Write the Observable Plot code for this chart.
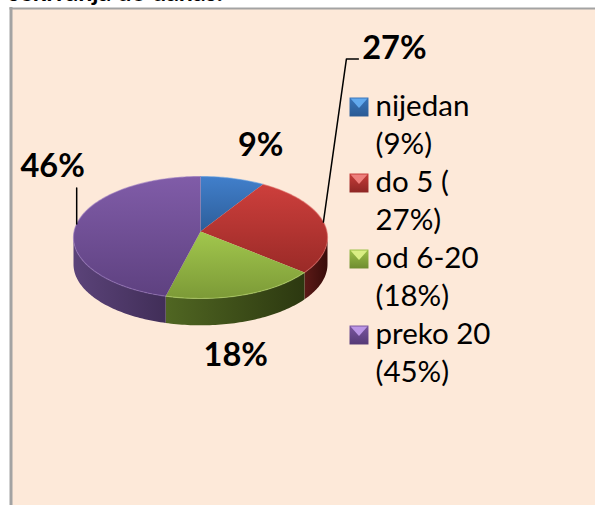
<!DOCTYPE html>
<html>
<head>
<meta charset="utf-8">
<script src="https://cdn.jsdelivr.net/npm/d3@7"></script>
<script src="https://cdn.jsdelivr.net/npm/@observablehq/plot@0.6"></script>
<style>
html,body{margin:0;padding:0;background:#fff;overflow:hidden}
svg{display:block}
</style>
</head>
<body>
<script>
const categories = ["nijedan", "do 5", "od 6-20", "preko 20"];
const values = [9, 27, 18, 46];
const legendLabels = ["nijedan\n(9%)", "do 5 (\n27%)", "od 6-20\n(18%)", "preko 20\n(45%)"];
const valueLabels = ["9%", "27%", "18%", "46%"];
const clippedHeading = "sekivanja do danas:";

const keys = ["blue", "red", "green", "purple"];
const topColors = [["#417fcb", "#2d5e9a"], ["#cd3f3c", "#9a2a27"], ["#a2c74d", "#7c9a37"], ["#805ca8", "#5e4180"]];
const sideColors = [["#2d5e9a", "#1e3f68"], ["#5c1a17", "#380c0a"], ["#506622", "#2c3810"], ["#5b4379", "#412e58"]];
const rimColors = ["#5b9be0", "#dd6663", "#b5d56a", "#9675bd"];
const swatchColors = [["#3a75ba", "#2a5a94"], ["#c63c39", "#8e2624"], ["#9bc048", "#6f8c30"], ["#7a56a0", "#553a76"]];
const swatchLights = ["#62a9ee", "#ee7f7c", "#d9ee84", "#bb96e6"];

// perspective view of the pie disk: the centre projects nearer the far rim
const depth = 0.44, persp = 0.1, vScale = 0.99, hScale = Math.sqrt(1 - persp * persp);
const arcs = d3.pie().sort(null).startAngle(0).endAngle(2 * Math.PI)(values);
const onRim = (t, drop = 0) => {
  const w = 1 + persp * Math.cos(t);
  return {px: hScale * Math.sin(t) / w, py: vScale * Math.cos(t) / w + persp - drop};
};
const sweep = (a, b) => {
  const n = Math.max(2, Math.ceil((b - a) / 0.02)), pts = [];
  for (let i = 0; i <= n; ++i) pts.push(a + (b - a) * i / n);
  return pts;
};
const X = {x: "px", y: "py"};

const topSlice = d => [{px: 0, py: persp}, ...sweep(d.startAngle, d.endAngle).map(t => onRim(t))];
const rimArc = d => sweep(d.startAngle, d.endAngle).map(t => onRim(t));
const frontStart = Math.acos(-persp), frontEnd = 2 * Math.PI - frontStart;
const sideWall = d => {
  const a = Math.max(d.startAngle, frontStart), b = Math.min(d.endAngle, frontEnd);
  if (a >= b) return null;
  const ts = sweep(a, b);
  return [...ts.map(t => onRim(t)), ...ts.slice().reverse().map(t => onRim(t, depth))];
};
const mid = d => onRim((d.startAngle + d.endAngle) / 2);

const grad = (defs, id, [c0, c1], horizontal) => {
  const g = defs.append("linearGradient").attr("id", id)
    .attr("x1", 0).attr("y1", 0).attr("x2", horizontal ? 1 : 0).attr("y2", horizontal ? 0 : 1);
  g.append("stop").attr("offset", 0).attr("stop-color", c0);
  g.append("stop").attr("offset", 1).attr("stop-color", c1);
};
const defsMark = () => {
  const defs = d3.create("svg:defs");
  keys.forEach((k, i) => {
    grad(defs, "top-" + k, topColors[i], false);
    grad(defs, "side-" + k, sideColors[i], true);
    grad(defs, "swatch-" + k, swatchColors[i], false);
  });
  return defs.node();
};

// top bevel of a legend swatch
const bevel = {draw(ctx, size) {
  const w = Math.sqrt(size) / 2;
  ctx.moveTo(-w + 1, -w + 1);
  ctx.lineTo(w - 1, -w + 1);
  ctx.lineTo(0, 1);
  ctx.closePath();
}};

const legendTextLeft = 365, legendSwatchCentre = 348.5, legendTop = 90, legendStep = 76;
const labelOffsets = [[28, -33], [71, -174], [-4, 57], [-24, -57]];
const labelLines = [null, [[23, -163], [35, -163]], null, [[0, -36]]];

const anchors = [mid(arcs[0]), mid(arcs[1]), {px: Math.sin((arcs[2].startAngle + arcs[2].endAngle) / 2), py: -1.0}, mid(arcs[3])];

const marks = [
  defsMark,
  Plot.frame({fill: "#fde9d9", stroke: "none"}),
  Plot.frame({anchor: "left", stroke: "#a3a3a3", strokeWidth: 3, dx: 0.5}),
  Plot.frame({anchor: "top", stroke: "#a3a3a3", strokeWidth: 2}),
  Plot.text([clippedHeading], {
    frameAnchor: "top-left", dx: -2, dy: -8, textAnchor: "start", lineAnchor: "bottom",
    fontSize: 25, fontWeight: 700, fill: "#000"
  })
];

arcs.forEach((d, i) => {
  const wall = sideWall(d);
  if (wall) marks.push(Plot.line(wall, {...X, curve: "linear", stroke: "none", fill: `url(#side-${keys[i]})`}));
});
arcs.forEach((d, i) => {
  marks.push(Plot.line(topSlice(d), {...X, curve: "linear", stroke: "none", fill: `url(#top-${keys[i]})`}));
});
arcs.forEach((d, i) => {
  marks.push(Plot.line(rimArc(d), {...X, curve: "linear", stroke: rimColors[i], strokeWidth: 1.2, strokeOpacity: 0.55}));
});

// leader lines, anchored on the slices' mid-angles
arcs.forEach((d, i) => {
  if (!labelLines[i]) return;
  const a = mid(d), sx = 254 / 2, sy = 122 / 2;
  const pts = [a, ...labelLines[i].map(([dx, dy]) => ({px: a.px + dx / sx, py: a.py - dy / sy}))];
  marks.push(Plot.line(pts, {...X, curve: "linear", stroke: "#000", strokeWidth: 1.5}));
});

valueLabels.forEach((t, i) => {
  marks.push(Plot.text([t], {
    x: () => anchors[i].px, y: () => anchors[i].py,
    dx: labelOffsets[i][0], dy: labelOffsets[i][1],
    fontSize: 32.5, fontWeight: 700, fill: "#000", textAnchor: "middle", lineAnchor: "middle"
  }));
});

categories.forEach((c, i) => {
  const dy = legendTop + legendStep * i;
  marks.push(Plot.dot([c], {
    frameAnchor: "top-left", dx: legendSwatchCentre, dy: dy + 8.5,
    r: 10.7, symbol: "square", fill: `url(#swatch-${keys[i]})`, stroke: "none"
  }));
  marks.push(Plot.dot([c], {
    frameAnchor: "top-left", dx: legendSwatchCentre, dy: dy + 8.5,
    r: 10.7, symbol: bevel, fill: swatchLights[i], stroke: "none"
  }));
  marks.push(Plot.text([legendLabels[i]], {
    frameAnchor: "top-left", dx: legendTextLeft, dy: dy - 9,
    textAnchor: "start", lineAnchor: "top", lineHeight: 38 / 29.5,
    fontSize: 29.5, fill: "#000"
  }));
});

const chart = Plot.plot({
  width: 595, height: 505,
  marginLeft: 10, marginTop: 8, marginRight: 0, marginBottom: 0,
  style: {fontFamily: "Lato, 'Noto Sans', sans-serif", background: "#fff"},
  x: {domain: [-1, 1], range: [73, 327], axis: null},
  y: {domain: [-1, 1], range: [298, 176], axis: null},
  marks
});
document.body.append(chart);
</script>
</body>
</html>
